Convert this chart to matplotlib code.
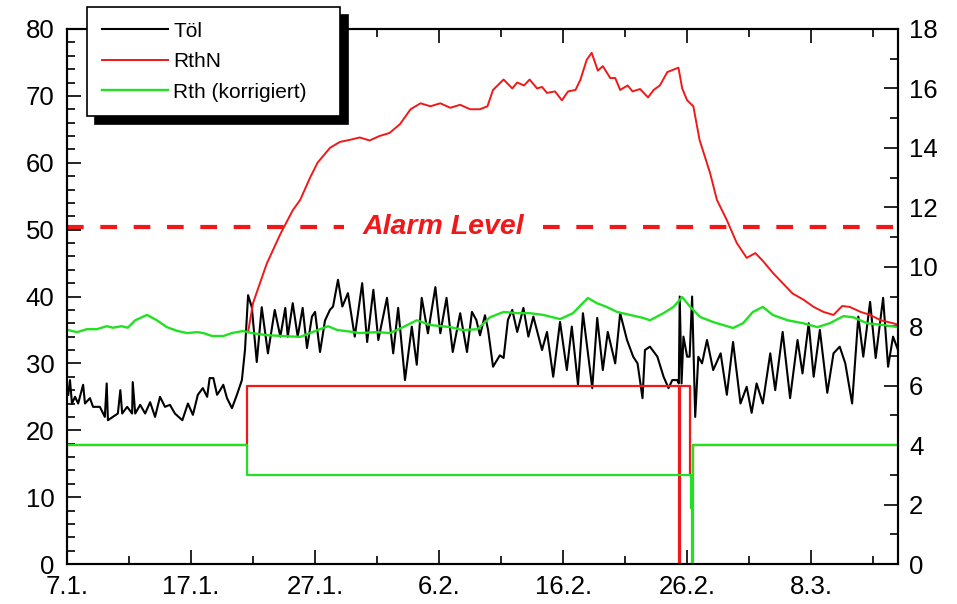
import matplotlib.pyplot as plt
from matplotlib.ticker import MultipleLocator

plt.rcParams['font.family'] = ['Liberation Sans', 'DejaVu Sans']

# x in days after 7.1.
date_ticks = [0, 10, 20, 30, 40, 50, 60]
date_labels = ['7.1.', '17.1.', '27.1.', '6.2.', '16.2.', '26.2.', '8.3.']

# Töl (left axis)
toel_day = [0.1, 0.24, 0.4, 0.65, 0.9, 1.3, 1.45, 1.85, 2.1, 2.65, 3.05, 3.2, 3.3, 3.7, 4.1,
            4.3, 4.45, 4.85, 5.25, 5.3, 5.5, 5.9, 6.3, 6.7, 7.1, 7.5, 7.9, 8.3, 8.7, 9.3,
            9.75, 10.15, 10.55, 10.95, 11.3, 11.5, 11.8, 12.1, 12.35, 12.6, 12.9, 13.3, 13.7, 14.1, 14.35,
            14.6, 14.9, 15.3, 15.7, 16.2, 16.75, 17.2, 17.6, 17.8, 18.2, 18.6, 19.0, 19.35, 19.75, 20.0,
            20.4, 20.8, 21.2, 21.45, 21.85, 22.2, 22.65, 23.2, 23.8, 24.2, 24.7, 25.1, 25.8, 26.3, 26.7,
            27.25, 27.8, 28.2, 28.6, 29.1, 29.7, 30.1, 30.6, 31.1, 31.7, 32.25, 32.65, 33.0, 33.3, 33.7,
            33.95, 34.35, 34.9, 35.2, 35.55, 35.9, 36.3, 36.8, 37.2, 37.6, 38.3, 38.7, 39.2, 39.75, 40.3,
            40.7, 41.2, 41.6, 42.35, 42.75, 43.2, 43.6, 44.2, 44.6, 45.15, 45.65, 46.0, 46.4, 46.6, 47.0,
            47.6, 48.1, 48.5, 48.8, 49.2, 49.33, 49.4, 49.55, 49.7, 50.0, 50.2, 50.4, 50.65, 50.9, 51.2,
            51.6, 52.1, 52.7, 53.2, 53.7, 54.3, 54.8, 55.2, 55.6, 56.1, 56.7, 57.1, 57.7, 58.3, 58.9,
            59.3, 59.8, 60.2, 60.7, 61.3, 61.8, 62.3, 62.75, 63.3, 63.8, 64.2, 64.75, 65.2, 65.8, 66.2,
            66.6, 67.0]
toel = [25.3, 27.5, 24.0, 25.0, 24.0, 26.8, 24.0, 24.8, 23.5, 23.5, 22.0, 27.0, 21.5, 22.0, 22.5,
        26.0, 22.5, 23.5, 22.5, 27.2, 22.5, 23.8, 22.5, 24.2, 22.0, 25.0, 23.5, 23.8, 22.5, 21.5,
        24.0, 22.3, 25.3, 26.3, 25.0, 27.8, 27.8, 25.3, 26.0, 26.8, 24.8, 23.3, 25.3, 27.5, 32.0,
        40.2, 38.4, 30.2, 38.4, 31.5, 38.0, 34.0, 38.3, 34.0, 39.0, 34.0, 38.3, 32.3, 37.0, 37.7,
        31.7, 36.4, 38.0, 38.5, 42.5, 38.5, 40.5, 34.0, 42.0, 33.2, 41.0, 33.5, 39.8, 31.5, 38.3,
        27.5, 35.5, 29.8, 39.8, 34.5, 41.4, 34.5, 39.8, 31.7, 37.5, 31.7, 37.7, 36.5, 34.2, 37.2,
        35.0, 29.5, 31.2, 30.8, 36.5, 38.0, 34.7, 38.3, 34.0, 37.0, 32.0, 34.7, 28.0, 36.2, 29.0,
        35.5, 26.8, 37.5, 26.3, 36.8, 29.0, 34.7, 30.0, 37.5, 33.5, 31.0, 30.0, 24.8, 32.0, 32.5,
        31.0, 28.0, 26.3, 27.5, 27.5, 27.0, 40.0, 27.0, 34.0, 31.0, 31.0, 40.0, 22.0, 31.0, 30.0,
        33.5, 29.0, 31.5, 25.3, 33.2, 24.0, 26.5, 22.6, 27.0, 24.0, 31.5, 26.0, 34.7, 24.8, 33.5,
        28.5, 36.0, 28.0, 35.0, 25.6, 31.5, 32.5, 30.0, 24.0, 37.0, 31.0, 39.2, 30.8, 39.8, 29.5,
        34.0, 32.0]

# RthN (right axis)
rthn_day = [14.6, 15.0, 15.6, 16.1, 17.2, 18.2, 18.8, 19.6, 20.2, 21.2, 22.0, 22.8, 23.6, 24.4, 25.2,
            26.0, 26.85, 27.7, 28.5, 29.3, 30.1, 30.9, 31.7, 32.5, 33.3, 33.9, 34.35, 35.2, 35.9, 36.3,
            36.85, 37.3, 37.9, 38.3, 38.7, 39.35, 39.9, 40.4, 41.0, 41.4, 41.9, 42.3, 42.8, 43.2, 43.8,
            44.2, 44.6, 45.2, 45.6, 46.2, 46.85, 47.3, 47.8, 48.4, 49.3, 49.6, 50.0, 50.5, 51.0, 51.85,
            52.4, 53.2, 54.0, 54.8, 55.5, 56.1, 56.9, 57.7, 58.5, 59.35, 60.2, 61.0, 61.8, 62.5, 63.1,
            64.0, 64.75, 65.6, 66.6, 67.0]
rthn = [7.8, 8.78, 9.5, 10.1, 11.1, 11.9, 12.25, 13.0, 13.5, 14.0, 14.2, 14.27, 14.35, 14.25, 14.4,
        14.5, 14.8, 15.3, 15.5, 15.4, 15.5, 15.35, 15.45, 15.3, 15.3, 15.4, 15.95, 16.3, 16.0, 16.2,
        16.1, 16.3, 16.0, 16.05, 15.85, 15.9, 15.6, 15.9, 15.95, 16.3, 16.96, 17.2, 16.6, 16.75, 16.35,
        16.35, 15.95, 16.1, 15.9, 15.98, 15.7, 15.95, 16.1, 16.55, 16.7, 16.0, 15.6, 15.4, 14.27, 13.15,
        12.25, 11.57, 10.8, 10.3, 10.46, 10.2, 9.8, 9.45, 9.1, 8.9, 8.65, 8.48, 8.38, 8.68, 8.65,
        8.48, 8.38, 8.2, 8.1, 8.05]

# Rth (korrigiert) (right axis)
rth_day = [0.1, 0.8, 1.6, 2.4, 3.2, 3.7, 4.4, 4.9, 5.5, 6.45, 7.25, 8.05, 8.9, 9.7, 10.5,
           11.0, 11.7, 12.6, 13.3, 14.2, 14.9, 16.1, 17.4, 18.8, 20.2, 21.05, 21.8, 22.8, 23.6, 25.0,
           26.05, 27.1, 28.2, 29.3, 30.9, 31.9, 33.1, 34.1, 35.2, 36.3, 37.3, 38.4, 39.75, 40.8, 41.4,
           42.0, 42.7, 43.5, 44.35, 45.4, 46.45, 47.0, 48.1, 48.9, 49.6, 50.25, 51.05, 52.1, 53.7, 54.5,
           55.3, 56.1, 56.9, 58.1, 59.35, 60.5, 61.5, 62.6, 63.4, 64.5, 65.8, 67.0]
rth = [7.87, 7.8, 7.9, 7.9, 8.0, 7.95, 8.0, 7.95, 8.2, 8.38, 8.2, 7.97, 7.84, 7.77, 7.8,
       7.77, 7.67, 7.67, 7.77, 7.84, 7.77, 7.7, 7.67, 7.64, 7.87, 8.0, 7.87, 7.82, 7.77, 7.8,
       7.77, 7.97, 8.2, 8.04, 7.97, 7.87, 7.9, 8.3, 8.48, 8.44, 8.44, 8.38, 8.24, 8.44, 8.7,
       8.95, 8.78, 8.65, 8.48, 8.38, 8.28, 8.2, 8.44, 8.65, 8.98, 8.65, 8.31, 8.14, 7.94, 8.1,
       8.48, 8.65, 8.38, 8.2, 8.1, 7.97, 8.1, 8.34, 8.3, 8.1, 8.04, 7.97]

# step signals (right axis)
rthn_step_day = [0, 14.5, 49.35, 49.45, 50.25, 50.5, 67]
rthn_step = [4, 6, 0, 6, 3, 4, 4]
rth_step_day = [0, 14.5, 50.3, 50.42, 50.5, 67]
rth_step = [4, 3, 1.9, 0, 4, 4]

alarm_level = 50.4
alarm_gap = (22.3, 38.4)

red = '#f01818'
green = '#22e022'

fig = plt.figure(figsize=(9.57, 6.04), dpi=100)
ax = fig.add_axes([67/957, 40/604, 831/957, 535/604])
ax2 = ax.twinx()

l1, = ax.plot(toel_day, toel, color='black', lw=1.5, zorder=3)
ax.hlines(alarm_level, 0, alarm_gap[0], color=red, lw=3, linestyles=(0, (4, 4)))
ax.hlines(alarm_level, alarm_gap[1], 67, color=red, lw=3, linestyles=(0, (4, 4)))
ax.text(sum(alarm_gap) / 2, alarm_level, 'Alarm Level', color=red, fontsize=20.5,
        fontweight='bold', fontstyle='italic', ha='center', va='center')

ax2.plot(rthn_step_day, rthn_step, color=red, lw=1.6, drawstyle='steps-post')
ax2.plot(rth_step_day, rth_step, color=green, lw=1.6, drawstyle='steps-post')
l2, = ax2.plot(rthn_day, rthn, color=red, lw=1.4)
l3, = ax2.plot(rth_day, rth, color=green, lw=1.7)

ax.set_xlim(0, 67)
ax.set_ylim(0, 80)
ax2.set_ylim(0, 18)
ax.set_xticks(date_ticks)
ax.set_xticklabels(date_labels)
ax.xaxis.set_minor_locator(MultipleLocator(5))
ax.yaxis.set_major_locator(MultipleLocator(10))
ax.yaxis.set_minor_locator(MultipleLocator(2))
ax2.yaxis.set_major_locator(MultipleLocator(2))
ax2.yaxis.set_minor_locator(MultipleLocator(1))

ax.tick_params(axis='both', which='both', direction='in', top=True, right=False,
               labelsize=18.5, width=1.2)
ax.tick_params(which='major', length=10)
ax.tick_params(which='minor', length=6)
ax.tick_params(axis='y', pad=9)
ax.tick_params(axis='x', pad=8)
ax2.tick_params(axis='y', which='both', direction='in', labelsize=18.5, width=1.2, pad=8)
ax2.tick_params(which='major', length=10)
ax2.tick_params(which='minor', length=6)
for a in (ax, ax2):
    for s in a.spines.values():
        s.set_linewidth(1.5)

leg = ax2.legend([l1, l2, l3], ['Töl', 'RthN', 'Rth (korrigiert)'], loc='upper left',
                 bbox_to_anchor=(87/957, 1 - 117/604, 253/957, 110/604),
                 bbox_transform=fig.transFigure, mode='expand',
                 fancybox=False, edgecolor='black', framealpha=1, fontsize=15,
                 shadow={'ox': 5.8, 'oy': -5.8, 'color': 'black', 'alpha': 1},
                 handlelength=3.2, handletextpad=0.25, borderpad=0.7, labelspacing=0.55,
                 borderaxespad=0)
leg.get_frame().set_linewidth(1.2)

fig.savefig('out.png', dpi=100)
